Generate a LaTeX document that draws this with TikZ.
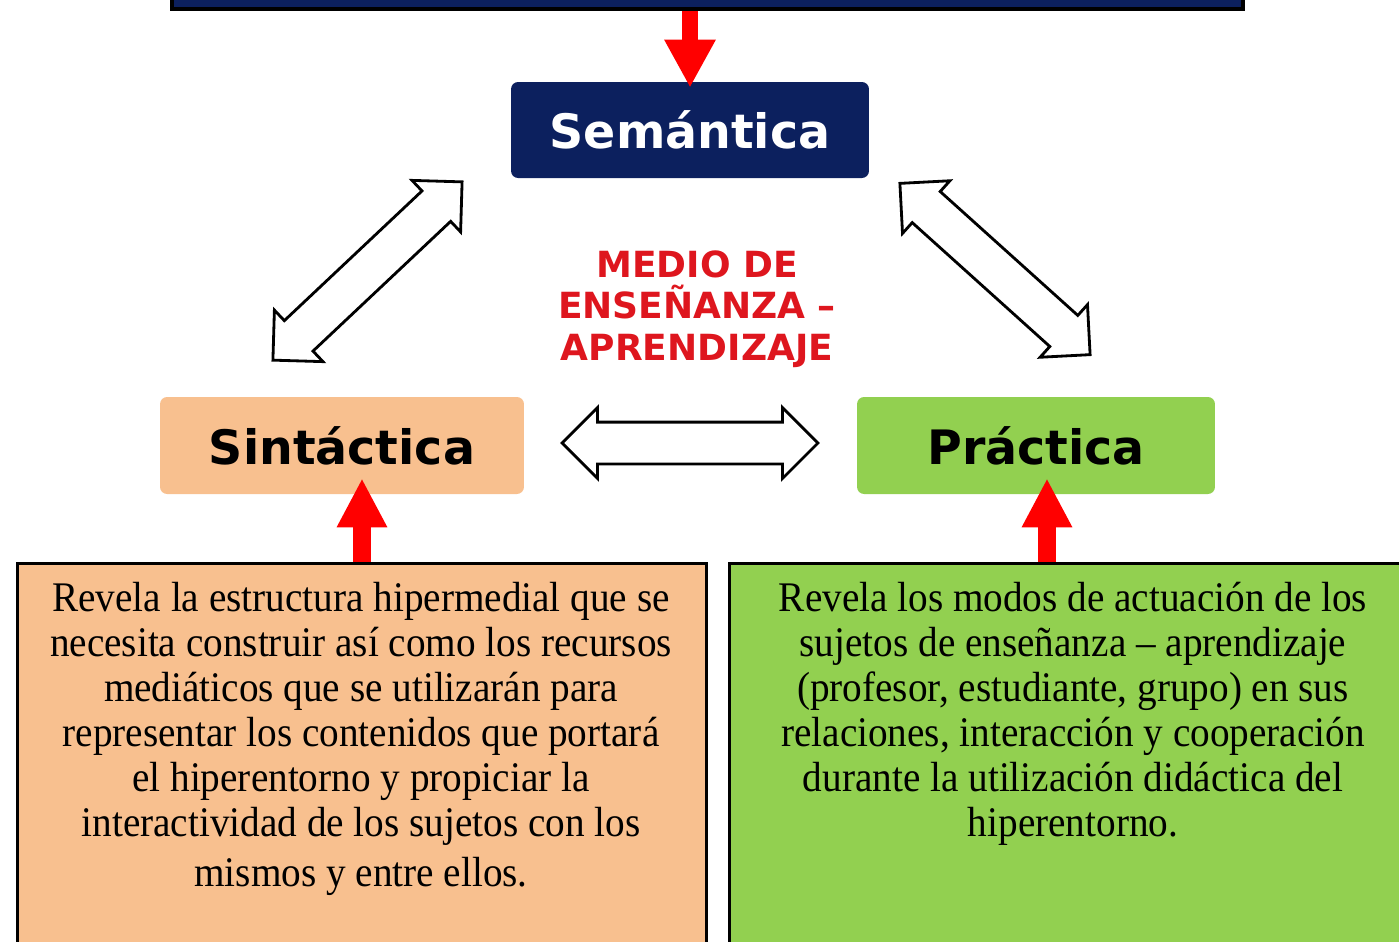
\documentclass[tikz,border=0pt]{standalone}
\usepackage{fontspec}
\setmainfont{Liberation Serif}
\newfontfamily\labelfont{DejaVu Sans}
\newfontfamily\bodyfont{Liberation Serif}[FakeStretch=0.93]
\usetikzlibrary{arrows.meta,shapes.arrows}
\definecolor{navy}{RGB}{12,32,94}
\definecolor{peach}{RGB}{248,192,143}
\definecolor{leaf}{RGB}{146,208,80}
\definecolor{arrowred}{RGB}{255,0,0}
\definecolor{textred}{RGB}{222,22,30}

\begin{document}
\begin{tikzpicture}[x=0.02cm,y=-0.02cm,
  topbox/.style={fill=navy,draw=black,line width=2.3pt,inner sep=0pt},
  headbox/.style={rounded corners=4pt,inner sep=0pt,
    font=\labelfont\bfseries\fontsize{27}{30}\selectfont},
  infobox/.style={draw=black,line width=1.7pt,inner sep=0pt},
  bodytext/.style={inner sep=0pt,align=center,
    font=\bodyfont\fontsize{24}{25.6}\selectfont},
  redtext/.style={inner sep=0pt,align=center,text=textred,
    font=\labelfont\bfseries\fontsize{20.5}{23.6}\selectfont},
  dblarrow/.style={double arrow,draw=black,fill=white,line width=1.6pt,
    inner sep=0.39cm,double arrow tip angle=90,
    double arrow head extend=0.29cm},
  downarrow/.style={draw=arrowred,line width=0.32cm,
    -{Triangle[width=0.96cm,length=0.96cm]}},
  uparrow/.style={draw=arrowred,line width=0.37cm,
    -{Triangle[width=0.94cm,length=0.98cm]}}]
  \useasboundingbox (0,0) rectangle (1399,941);
  \clip (0,0) rectangle (1399,941);

  \node[topbox,minimum width=21.42cm,minimum height=1cm] (top) at (707.5,-16) {};

  \node[headbox,fill=navy,text=white,minimum width=7.16cm,minimum height=1.92cm] (sem) at (690,130) {Semántica};
  \node[headbox,fill=peach,minimum width=7.28cm,minimum height=1.94cm] (sint) at (342,445.5) {Sintáctica};
  \node[headbox,fill=leaf,minimum width=7.16cm,minimum height=1.94cm] (prac) at (1036,445.5) {Práctica};

  \node[redtext,anchor=north] (medio) at (697,250) {MEDIO DE\\ENSEÑANZA –\\APRENDIZAJE};

  \node[dblarrow,minimum height=5.2cm,rotate=43.3] (semsint) at (367.5,271) {};
  \node[dblarrow,minimum height=5.12cm,rotate=-42] (semprac) at (995,269) {};
  \node[dblarrow,minimum height=5.12cm] (sintprac) at (690,443) {};

  \node[infobox,fill=peach,minimum width=13.8cm,minimum height=8cm,anchor=north] (boxL) at (362,562) {};
  \node[infobox,fill=leaf,minimum width=13.9cm,minimum height=8cm,anchor=north west] (boxR) at (728,562) {};

  \node[bodytext,anchor=north] (txtL) at (361,582) {Revela la estructura hipermedial que se\\
    necesita construir así como los recursos\\
    mediáticos que se utilizarán para\\
    representar los contenidos que portará\\
    el hiperentorno y propiciar la\\
    interactividad de los sujetos con los\\[2.8pt]
    mismos y entre ellos.};
  \node[bodytext,anchor=north] (txtR) at (1073,582) {Revela los modos de actuación de los\\
    sujetos de enseñanza – aprendizaje\\
    (profesor, estudiante, grupo) en sus\\
    relaciones, interacción y cooperación\\
    durante la utilización didáctica del\\
    hiperentorno.};

  \path[downarrow] (top.south -| sem.north) -- ([yshift=-0.12cm]sem.north);
  \path[uparrow] (boxL.north) -- ([yshift=0.32cm]boxL.north |- sint.south);
  \path[uparrow] ([xshift=0.22cm]prac.south |- boxR.north) -- ([xshift=0.22cm,yshift=0.32cm]prac.south);
\end{tikzpicture}
\end{document}
